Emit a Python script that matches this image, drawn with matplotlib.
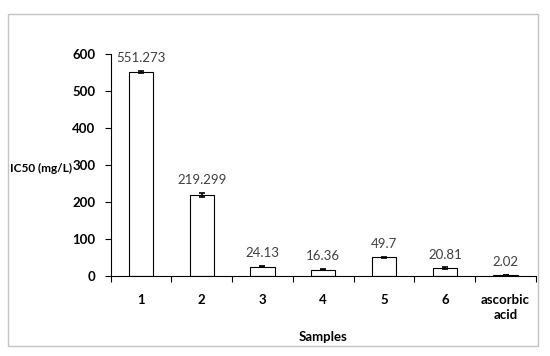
import numpy as np
import matplotlib.pyplot as plt
import matplotlib as mpl
from matplotlib.patches import Rectangle

mpl.rcParams['font.family'] = ['Lato', 'DejaVu Sans']

# data
samples = ['1', '2', '3', '4', '5', '6', 'ascorbic\nacid']
ic50 = [551.273, 219.299, 24.13, 16.36, 49.7, 20.81, 2.02]
ic50_err = [3.0, 5.0, 1.5, 1.5, 2.0, 1.5, 0.3]
value_labels = ['551.273', '219.299', '24.13', '16.36', '49.7', '20.81', '2.02']

fig = plt.figure(figsize=(5.5, 3.56), dpi=100)
# light grey outer frame
fig.patches.append(Rectangle((8/550, 1-346/356), 530/550, 332/356, transform=fig.transFigure,
                             fill=False, edgecolor='#c4c4c4', linewidth=1.0))

ax = fig.add_axes([110.5/550, 1-275.7/356, 425.5/550, 221.7/356])
x = np.arange(len(samples))
ax.bar(x, ic50, width=0.4, color='white', edgecolor='black', linewidth=0.8,
       yerr=ic50_err, error_kw=dict(ecolor='black', elinewidth=1.2, capsize=2.5, capthick=1.2))

for xi, v, e, lab in zip(x, ic50, ic50_err, value_labels):
    ax.annotate(lab, (xi, v + e), xytext=(0, 5), textcoords='offset points',
                ha='center', va='bottom', fontsize=9.5, color='#404040')

ax.set_xlim(-0.5, len(samples) - 0.5)
ax.set_ylim(0, 600)
ax.set_yticks(np.arange(0, 601, 100))
ax.set_xticks(x)
ax.set_xticklabels(samples, fontsize=9.5, fontweight='bold', linespacing=1.3)
ax.set_xticks(np.arange(-0.5, len(samples), 1.0), minor=True)
ax.tick_params(axis='x', which='major', length=0, pad=13)
ax.tick_params(axis='x', which='minor', length=4, direction='out', width=0.8)
ax.tick_params(axis='y', length=4, direction='out', width=0.8, labelsize=9.5, pad=7)
for t in ax.get_yticklabels():
    t.set_fontweight('bold')

for s in ['top', 'right']:
    ax.spines[s].set_visible(False)
for s in ['left', 'bottom']:
    ax.spines[s].set_linewidth(0.8)

fig.text(10/550, 1-168/356, 'IC50 (mg/L)', ha='left', va='center', fontsize=8.5, fontweight='bold')
fig.text(323/550, 1-337/356, 'Samples', ha='center', va='center', fontsize=9.5, fontweight='bold')

fig.savefig('out.png', dpi=100)
